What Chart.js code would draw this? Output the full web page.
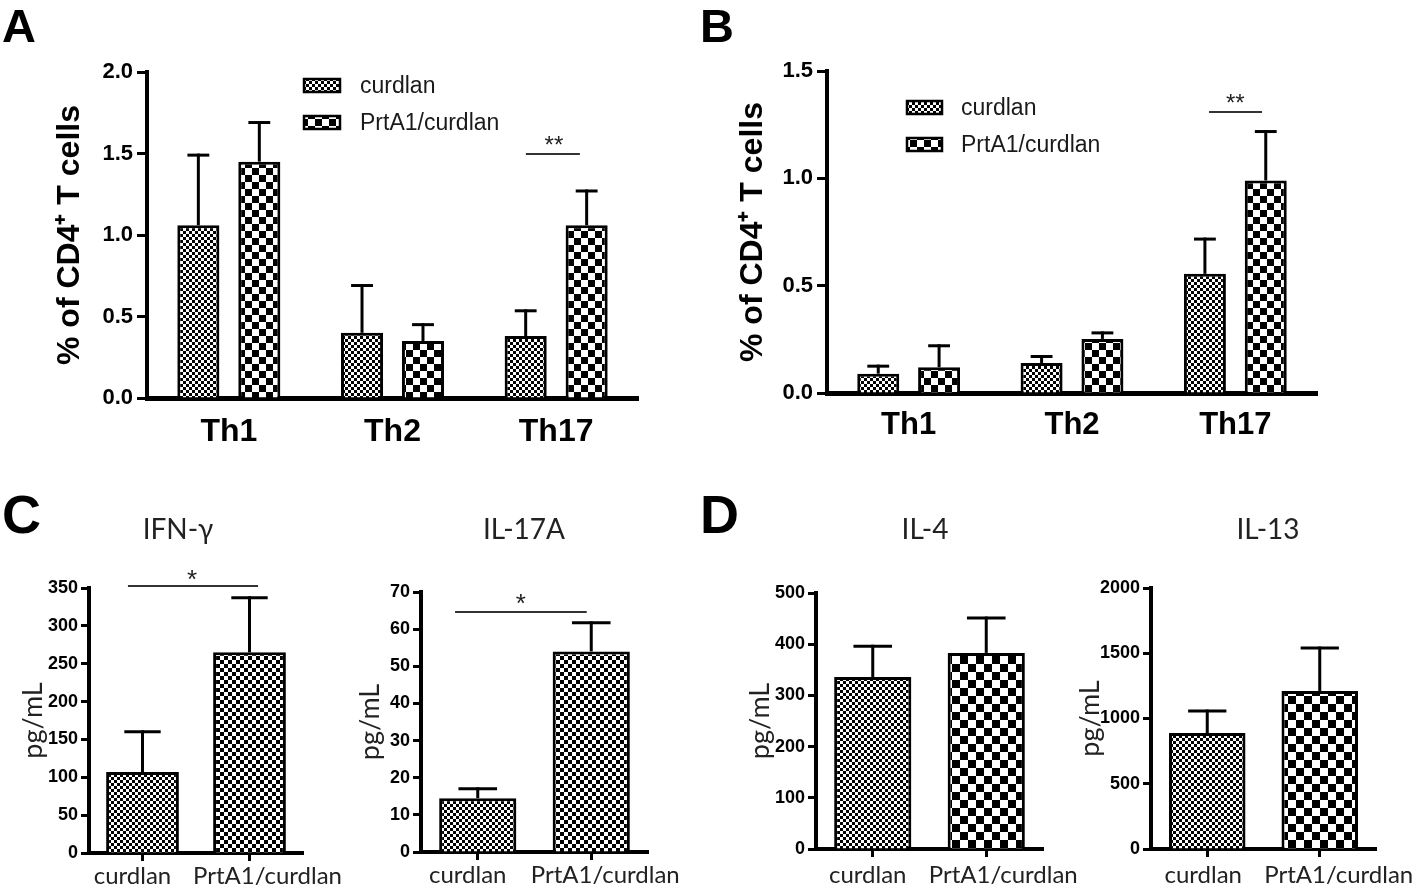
<!DOCTYPE html>
<html><head><meta charset="utf-8">
<script src="https://cdn.jsdelivr.net/npm/chart.js@4.4.1/dist/chart.umd.min.js"></script>
<style>
html,body{margin:0;padding:0;background:#fff;}
#wrap{position:relative;width:1418px;height:893px;overflow:hidden;background:#fff;}
canvas{position:absolute;left:0;top:0;}
.lt{position:absolute;font-family:'Liberation Sans',Arial,sans-serif;font-weight:bold;color:#000;line-height:1;white-space:nowrap;}
.st{position:absolute;font-family:Lato,sans-serif;color:#222;line-height:1;white-space:nowrap;transform:translateX(-50%);}
</style></head><body>
<div id="wrap">
<canvas id="cA"></canvas><canvas id="cB"></canvas><canvas id="cIFN"></canvas><canvas id="cIL17"></canvas><canvas id="cIL4"></canvas><canvas id="cIL13"></canvas>
<div class="lt" style="left:2px;top:2px;font-size:47px;">A</div>
<div class="lt" style="left:700px;top:2px;font-size:47px;">B</div>
<div class="lt" style="left:2px;top:487px;font-size:54px;">C</div>
<div class="lt" style="left:700px;top:487px;font-size:54px;">D</div>
<div class="st" style="left:178px;top:514px;font-size:28px;">IFN-γ</div>
<div class="st" style="left:524px;top:514px;font-size:28px;">IL-17A</div>
<div class="st" style="left:925px;top:514px;font-size:28px;">IL-4</div>
<div class="st" style="left:1268px;top:514px;font-size:28px;">IL-13</div>
</div>
<script>
// ---------------- data ----------------
const groupLabels = ['Th1', 'Th2', 'Th17'];
const seriesNames = ['curdlan', 'PrtA1/curdlan'];

const aCurdlan = [1.06, 0.40, 0.38];
const aCurdlanErr = [0.43, 0.29, 0.155];
const aPrtA1 = [1.45, 0.35, 1.06];
const aPrtA1Err = [0.24, 0.10, 0.21];
const aTicks = ['0.0', '0.5', '1.0', '1.5', '2.0'];

const bCurdlan = [0.09, 0.14, 0.555];
const bCurdlanErr = [0.035, 0.03, 0.162];
const bPrtA1 = [0.12, 0.252, 0.99];
const bPrtA1Err = [0.10, 0.028, 0.228];
const bTicks = ['0.0', '0.5', '1.0', '1.5'];

const cytoLabels = ['curdlan', 'PrtA1/curdlan'];
const ifnValues = [107, 265];
const ifnErr = [53, 72];
const ifnTicks = ['0', '50', '100', '150', '200', '250', '300', '350'];

const il17Values = [14.5, 54];
const il17Err = [2.5, 7.7];
const il17Ticks = ['0', '10', '20', '30', '40', '50', '60', '70'];

const il4Values = [336, 383];
const il4Err = [60, 68];
const il4Ticks = ['0', '100', '200', '300', '400', '500'];

const il13Values = [889, 1211];
const il13Err = [168, 329];
const il13Ticks = ['0', '500', '1000', '1500', '2000'];

// ---------------- helpers ----------------
const W = 1418, H = 893;
function checker(cell) {
  const c = document.createElement('canvas');
  c.width = c.height = cell * 2;
  const x = c.getContext('2d');
  x.fillStyle = '#fff'; x.fillRect(0, 0, cell * 2, cell * 2);
  x.fillStyle = '#000'; x.fillRect(0, 0, cell, cell); x.fillRect(cell, cell, cell, cell);
  return x.createPattern(c, 'repeat');
}
const patFine = checker(3);
const patMid = checker(4);
const patBig = checker(7);
const patBigD = checker(8);

const ARIAL = "'Liberation Sans', Arial, sans-serif";
const LATO = "Lato, 'Open Sans', sans-serif";

function build(id, s) {
  const cv = document.getElementById(id);
  cv.width = W; cv.height = H; cv.style.width = W + 'px'; cv.style.height = H + 'px';
  const extra = {
    id: 'extra_' + id,
    afterDatasetsDraw(chart) {
      const ctx = chart.ctx, ys = chart.scales.y, xs = chart.scales.x;
      ctx.save();
      s.datasets.forEach((ds, di) => {
        const meta = chart.getDatasetMeta(di);
        meta.data.forEach((bar, i) => {
          const v = ds.data[i], e = ds.err[i];
          if (v == null) return;
          const yt = ys.getPixelForValue(v + e);
          const cap = bar.width * s.capFrac;
          ctx.strokeStyle = '#000'; ctx.lineWidth = s.errW; ctx.lineCap = 'butt';
          ctx.beginPath();
          ctx.moveTo(bar.x, bar.y); ctx.lineTo(bar.x, yt - s.errW / 2);
          ctx.stroke();
          ctx.beginPath();
          ctx.moveTo(bar.x - cap / 2, yt); ctx.lineTo(bar.x + cap / 2, yt);
          ctx.stroke();
        });
      });
      if (s.sig) {
        const g = s.sig;
        const y = ys.getPixelForValue(g.y);
        ctx.strokeStyle = '#333'; ctx.lineWidth = 2;
        ctx.beginPath();
        ctx.moveTo(xs.getPixelForValue(g.x0), y); ctx.lineTo(xs.getPixelForValue(g.x1), y);
        ctx.stroke();
        ctx.fillStyle = '#222'; ctx.font = g.font; ctx.textAlign = 'center'; ctx.textBaseline = 'alphabetic';
        ctx.fillText(g.text, xs.getPixelForValue(g.xs), ys.getPixelForValue(g.ys) + g.size * 0.575);
      }
      if (s.xLabelShift) {
        // category labels, shifted apart like the original figure
        ctx.fillStyle = s.xColor; ctx.font = s.xFont.size + 'px ' + s.xFont.family;
        ctx.textAlign = 'center'; ctx.textBaseline = 'alphabetic';
        s.labels.forEach((lab, i) => {
          ctx.fillText(lab, xs.getPixelForValue(i) + s.xLabelShift[i], s.B + s.xBase);
        });
      }
      if (s.legend) {
        const L = s.legend;
        s.datasets.forEach((ds, di) => {
          const y0 = L.y + di * L.row;
          ctx.fillStyle = ds.bg; ctx.fillRect(L.x, y0, L.bw, L.bh);
          ctx.strokeStyle = '#000'; ctx.lineWidth = 2.5; ctx.strokeRect(L.x + 1, y0 + 1, L.bw - 2, L.bh - 2);
          ctx.fillStyle = '#1a1a1a'; ctx.font = L.font; ctx.textAlign = 'left'; ctx.textBaseline = 'middle';
          ctx.fillText(ds.label, L.x + L.bw + L.gap, y0 + L.bh / 2 + 1);
        });
      }
      ctx.restore();
    }
  };
  const titleLH = s.yTitleFont.size * 1.2;
  return new Chart(cv, {
    type: 'bar',
    data: {
      labels: s.labels,
      datasets: s.datasets.map(ds => ({
        label: ds.label, data: ds.data, backgroundColor: ds.bg,
        borderColor: '#000', borderWidth: s.barBorder, borderSkipped: 'start',
        barPercentage: s.barPct, categoryPercentage: s.catPct
      }))
    },
    options: {
      responsive: false, animation: false, devicePixelRatio: 1,
      layout: { padding: { left: 0, top: s.T, right: W - s.R, bottom: 0 } },
      plugins: { legend: { display: false }, tooltip: { enabled: false }, title: { display: false } },
      scales: {
        x: {
          offset: true,
          grid: { display: s.xTicks, drawOnChartArea: false, offset: false, drawTicks: s.xTicks,
                  tickLength: s.xTicks ? 8 : 0, tickWidth: 3, tickColor: '#000', color: '#000' },
          border: { display: true, width: s.xBorderW, color: '#000' },
          ticks: { display: !s.xLabelShift, font: s.xFont, color: s.xColor, padding: s.xPad, maxRotation: 0, autoSkip: false },
          afterFit(sc) { sc.height = H - s.B; }
        },
        y: {
          min: 0, max: s.yMax,
          ticks: { stepSize: s.yStep, font: s.yFont, color: '#000', padding: s.yPad,
                   callback: (v, i) => s.yTicks[i] },
          grid: { display: true, drawOnChartArea: false, drawTicks: true, tickLength: s.yTickLen,
                  tickWidth: 3, tickColor: '#000', color: '#000' },
          border: { display: true, width: s.yBorderW, color: '#000' },
          title: { display: true, text: s.yTitle, font: s.yTitleFont, color: s.yTitleColor,
                   padding: { top: s.yTitleX - titleLH / 2, bottom: 0 } },
          afterFit(sc) { sc.width = s.L; }
        }
      }
    },
    plugins: [extra]
  });
}

function drawAll() {
  const commonAB = {
    labels: groupLabels, barBorder: 3, errW: 3, capFrac: 0.52,
    barPct: 0.69, catPct: 0.745, xTicks: false, xBorderW: 5, yBorderW: 4,
    xColor: '#000', yPad: 4, yTickLen: 10,
    yFont: { family: ARIAL, size: 22, weight: 'bold' },
    yTitle: '% of CD4\u207A T cells', yTitleColor: '#000',
    yTitleFont: { family: ARIAL, size: 32, weight: 'bold' }
  };
  build('cA', Object.assign({}, commonAB, {
    L: 147, R: 638, T: 72, B: 398, yMax: 2, yStep: 0.5, yTicks: aTicks, yTitleX: 70,
    xFont: { family: ARIAL, size: 32, weight: 'bold' }, xPad: 15,
    datasets: [
      { label: seriesNames[0], data: aCurdlan, err: aCurdlanErr, bg: patFine },
      { label: seriesNames[1], data: aPrtA1, err: aPrtA1Err, bg: patBig }
    ],
    sig: { x0: 1.815, x1: 2.145, y: 1.497, xs: 1.986, ys: 1.589, text: '**', size: 24, font: '24px ' + ARIAL },
    legend: { x: 303, y: 78, bw: 38, bh: 15, row: 37, gap: 19, font: '23px ' + ARIAL }
  }));
  build('cB', Object.assign({}, commonAB, {
    L: 827, R: 1317, T: 71, B: 393, yMax: 1.5, yStep: 0.5, yTicks: bTicks, yTitleX: 753,
    xFont: { family: ARIAL, size: 31, weight: 'bold' }, xPad: 14,
    datasets: [
      { label: seriesNames[0], data: bCurdlan, err: bCurdlanErr, bg: patFine },
      { label: seriesNames[1], data: bPrtA1, err: bPrtA1Err, bg: patBig }
    ],
    sig: { x0: 1.839, x1: 2.163, y: 1.309, xs: 2.0, ys: 1.379, text: '**', size: 24, font: '24px ' + ARIAL },
    legend: { x: 906, y: 100, bw: 37, bh: 15, row: 37, gap: 18, font: '23px ' + ARIAL }
  }));
  const commonCD = {
    labels: cytoLabels, barBorder: 3, errW: 3, capFrac: 0.5,
    barPct: 0.68, catPct: 1.0, xTicks: true, xBorderW: 4, yBorderW: 4,
    xColor: '#222', xPad: 4, yPad: 3, yTickLen: 8, xBase: 31,
    xFont: { family: LATO, size: 24 },
    yFont: { family: ARIAL, size: 18, weight: 'bold' },
    yTitle: 'pg/mL', yTitleColor: '#222',
    yTitleFont: { family: LATO, size: 27 }
  };
  const star = { text: '*', size: 26, font: '26px ' + ARIAL };
  build('cIFN', Object.assign({}, commonCD, {
    L: 89, R: 303, T: 588, B: 853, yMax: 350, yStep: 50, yTicks: ifnTicks, yTitleX: 33,
    xLabelShift: [-10, 18],
    datasets: [{ label: 'IFN-γ', data: ifnValues, err: ifnErr, bg: [patFine, patMid] }],
    sig: Object.assign({ x0: -0.136, x1: 1.08, y: 352.7, xs: 0.464, ys: 369.8 }, star)
  }));
  build('cIL17', Object.assign({}, commonCD, {
    L: 421, R: 648, T: 592, B: 852, yMax: 70, yStep: 10, yTicks: il17Ticks, yTitleX: 370,
    xLabelShift: [-10, 14],
    datasets: [{ label: 'IL-17A', data: il17Values, err: il17Err, bg: [patFine, patMid] }],
    sig: Object.assign({ x0: -0.2, x1: 0.96, y: 64.6, xs: 0.38, ys: 68.7 }, star)
  }));
  build('cIL4', Object.assign({}, commonCD, {
    L: 816, R: 1043, T: 593, B: 849, yMax: 500, yStep: 100, yTicks: il4Ticks, yTitleX: 760,
    xLabelShift: [-5, 17], xBase: 34,
    datasets: [{ label: 'IL-4', data: il4Values, err: il4Err, bg: [patFine, patBigD] }]
  }));
  build('cIL13', Object.assign({}, commonCD, {
    L: 1151, R: 1376, T: 588, B: 849, yMax: 2000, yStep: 500, yTicks: il13Ticks, yTitleX: 1090,
    xLabelShift: [-4, 19], xBase: 34,
    datasets: [{ label: 'IL-13', data: il13Values, err: il13Err, bg: [patFine, patBigD] }]
  }));
}

const fontLoads = [
  document.fonts.load('24px Lato'),
  document.fonts.load('bold 22px "Liberation Sans"'),
  document.fonts.load('22px "Liberation Sans"')
];
Promise.all(fontLoads).then(drawAll, drawAll);
</script>
</body></html>
